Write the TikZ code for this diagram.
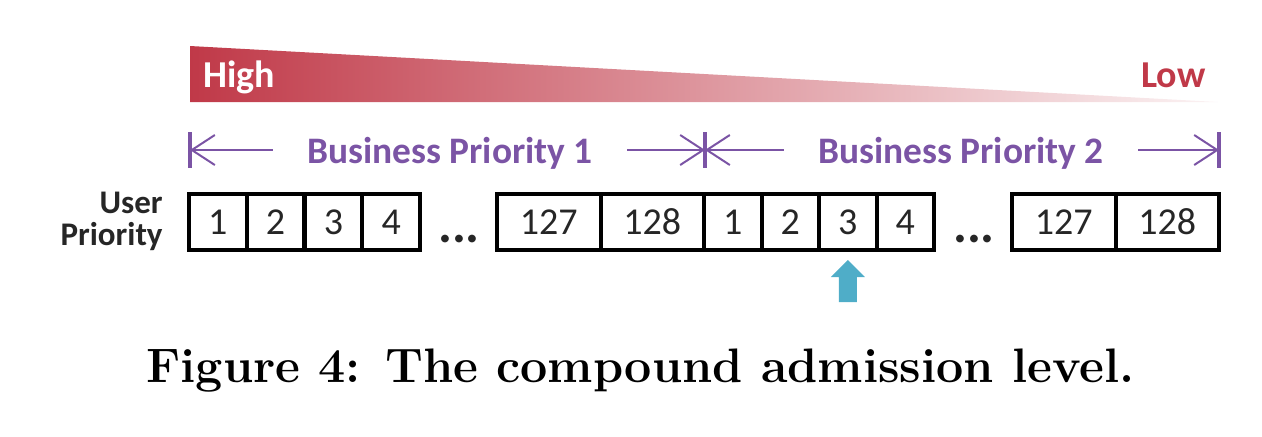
\documentclass[tikz,border=0pt]{standalone}
\usepackage{fontspec}
\usepackage{tikz}
\usetikzlibrary{arrows.meta, calc, positioning}
\newfontfamily\carlito{Carlito}
\definecolor{hired}{RGB}{192,57,72}
\definecolor{bizpurple}{RGB}{123,84,165}
\definecolor{usergray}{RGB}{38,38,38}
\definecolor{pickcyan}{RGB}{79,173,200}
\tikzset{
  x=0.5pt, y=-0.5pt,
  >={Straight Barb[length=11.5pt,width=15pt]},
  slot/.style={draw,line width=2pt,minimum height=28pt,inner sep=0pt,
    font=\carlito\fontsize{19}{19}\selectfont,text=usergray,minimum width=28.75pt},
  bigslot/.style={slot,minimum width=51.75pt},
  bizlabel/.style={font=\carlito\bfseries\fontsize{18.7}{19}\selectfont,text=bizpurple,inner xsep=17pt},
  bizarrow/.style={draw=bizpurple,line width=1pt,->},
  bizbar/.style={draw=bizpurple,line width=1.75pt},
  userlabel/.style={font=\carlito\bfseries\fontsize{16.5}{16.5}\selectfont,text=usergray,anchor=base east,inner sep=0pt},
  dotsl/.style={font=\carlito\bfseries\fontsize{26}{26}\selectfont,text=usergray,anchor=base}
}

\begin{document}
\begin{tikzpicture}
  \useasboundingbox (0,0) rectangle (1262,436);

  % High / Low
  \shade[left color=hired,right color=hired!6] (190,46) -- (190,102) -- (1218,102) -- cycle;
  \node[font=\carlito\bfseries\fontsize{19}{19}\selectfont,text=white,anchor=base west,inner sep=0pt] (high) at (203,87) {High};
  \node[font=\carlito\bfseries\fontsize{19}{19}\selectfont,text=hired,anchor=base east,inner sep=0pt] (low) at (1206,87) {Low};

  % Business priorities
  \coordinate (bar0) at (190,150);
  \coordinate (bar1) at (705,150);
  \coordinate (bar2) at (1219,150);
  \foreach \b in {bar0,bar1,bar2}
    \draw[bizbar] ($(\b)+(0,-18)$) -- ($(\b)+(0,18)$);
  \node[bizlabel] (bp1) at (450,153) {Business Priority 1};
  \node[bizlabel] (bp2) at (961,153) {Business Priority 2};
  \draw[bizarrow] (bp1.west |- bar0) -- (bar0);
  \draw[bizarrow] (bp1.east |- bar1) -- (bar1);
  \draw[bizarrow] (bp2.west |- bar1) -- (bar1);
  \draw[bizarrow] (bp2.east |- bar2) -- (bar2);

  % User priorities
  \node[userlabel] (user) at (163,213) {User};
  \node[userlabel] (prio) at (163,245) {Priority};
  \foreach \n [count=\i] in {1,...,4}
    \node[slot] (a\n) at (189+57.75*\i-28.875,222) {\n};
  \node[dotsl] (dotsa) at (459,242) {...};
  \node[bigslot] (a127) at (548.75,222) {127};
  \node[bigslot] (a128) at (652.25,222) {128};
  \foreach \n [count=\i] in {1,...,4}
    \node[slot] (b\n) at (704+57.5*\i-28.75,222) {\n};
  \node[dotsl] (dotsb) at (974,242) {...};
  \node[bigslot] (b127) at (1063.75,222) {127};
  \node[bigslot] (b128) at (1167.25,222) {128};

  % admission point
  \coordinate (pick) at (b3.south |- 0,260);
  \fill[pickcyan] (pick) -- ++(17,17) -- ++(-8,0) -- ++(0,25) -- ++(-18,0) -- ++(0,-25) -- ++(-8,0) -- cycle;

  % caption
  \node[font=\bfseries\fontsize{24.2}{29}\selectfont,anchor=base] (caption) at (640.5,382) {Figure 4: The compound admission level.};
\end{tikzpicture}
\end{document}
